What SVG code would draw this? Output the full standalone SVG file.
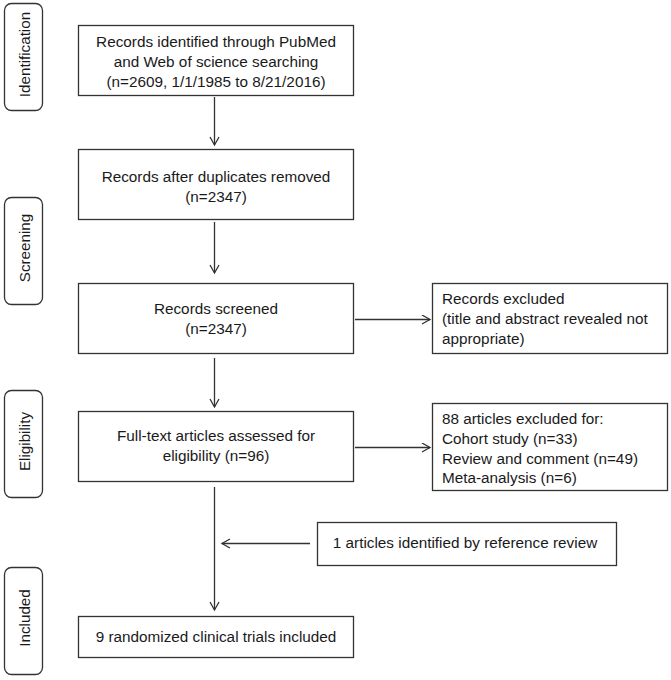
<svg xmlns="http://www.w3.org/2000/svg" width="671" height="680" viewBox="0 0 671 680">
<style>
.box{fill:#fff;stroke:#333;stroke-width:1.3}
.side{fill:#fff;stroke:#333;stroke-width:1.3}
.t{font-family:"Liberation Sans",Arial,sans-serif;font-size:15.3px;fill:#1a1a1a}
.s{font-family:"Liberation Sans",Arial,sans-serif;font-size:15.2px;fill:#1a1a1a;text-anchor:middle}
.c{text-anchor:middle}
.ln{stroke:#333;stroke-width:1.3;fill:none}
</style>
<defs>
<marker id="ah" markerWidth="12" markerHeight="12" refX="9" refY="5" orient="auto" markerUnits="userSpaceOnUse">
<path d="M1,0.5 L9,5 L1,9.5" fill="none" stroke="#333" stroke-width="1.3"/>
</marker>
</defs>
<rect width="671" height="680" fill="#fff"/>
<g id="side-identification"><rect class="side" x="4.5" y="3.5" width="38" height="107" rx="7"/><text class="s" transform="translate(30,54.5) rotate(-90)">Identification</text></g>
<g id="side-screening"><rect class="side" x="4.5" y="197.5" width="38" height="107" rx="7"/><text class="s" transform="translate(30,248) rotate(-90)">Screening</text></g>
<g id="side-eligibility"><rect class="side" x="4.5" y="390.5" width="38" height="107" rx="7"/><text class="s" transform="translate(30,441.5) rotate(-90)">Eligibility</text></g>
<g id="side-included"><rect class="side" x="4.5" y="567.5" width="38" height="107" rx="7"/><text class="s" transform="translate(30,618) rotate(-90)">Included</text></g>
<g id="n1"><rect class="box" x="78.5" y="25.5" width="275" height="70"/><text class="t c" x="216" y="47">Records identified through PubMed</text><text class="t c" x="216" y="67">and Web of science searching</text><text class="t c" x="216" y="87">(n=2609, 1/1/1985 to 8/21/2016)</text></g>
<g id="n2"><rect class="box" x="78.5" y="149.5" width="275" height="70"/><text class="t c" x="216" y="182">Records after duplicates removed</text><text class="t c" x="216" y="202">(n=2347)</text></g>
<g id="n3"><rect class="box" x="78.5" y="283.5" width="275" height="70"/><text class="t c" x="216" y="314">Records screened</text><text class="t c" x="216" y="334">(n=2347)</text></g>
<g id="n4"><rect class="box" x="78.5" y="411.5" width="275" height="70"/><text class="t c" x="216" y="441">Full-text articles assessed for</text><text class="t c" x="216" y="461">eligibility (n=96)</text></g>
<g id="n5"><rect class="box" x="78.5" y="616.5" width="275" height="41"/><text class="t c" x="216" y="642">9 randomized clinical trials included</text></g>
<g id="r1"><rect class="box" x="432.5" y="283.5" width="235" height="70"/><text class="t" x="442" y="304">Records excluded</text><text class="t" x="442" y="324">(title and abstract revealed not</text><text class="t" x="442" y="344">appropriate)</text></g>
<g id="r2"><rect class="box" x="432.5" y="403.5" width="235" height="87"/><text class="t" x="442" y="424">88 articles excluded for:</text><text class="t" x="442" y="444">Cohort study (n=33)</text><text class="t" x="442" y="464">Review and comment (n=49)</text><text class="t" x="442" y="483">Meta-analysis (n=6)</text></g>
<g id="r3"><rect class="box" x="317.5" y="522.5" width="299" height="43"/><text class="t c" x="465" y="548">1 articles identified by reference review</text></g>
<g id="connectors">
<line class="ln" x1="214.5" y1="97" x2="214.5" y2="145" marker-end="url(#ah)"/>
<line class="ln" x1="214.5" y1="222" x2="214.5" y2="273" marker-end="url(#ah)"/>
<line class="ln" x1="214.5" y1="358" x2="214.5" y2="407" marker-end="url(#ah)"/>
<line class="ln" x1="214.5" y1="487" x2="214.5" y2="610" marker-end="url(#ah)"/>
<line class="ln" x1="355" y1="319.5" x2="430" y2="319.5" marker-end="url(#ah)"/>
<line class="ln" x1="355" y1="447.5" x2="430" y2="447.5" marker-end="url(#ah)"/>
<line class="ln" x1="310" y1="543.5" x2="222" y2="543.5" marker-end="url(#ah)"/>
</g>
</svg>
